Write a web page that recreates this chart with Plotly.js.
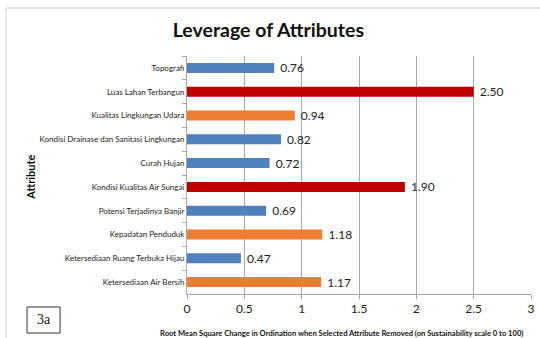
<!DOCTYPE html>
<html>
<head>
<meta charset="utf-8">
<script src="https://cdn.plot.ly/plotly-3.0.1.min.js"></script>
<style>html,body{margin:0;padding:0;background:#fff;}#chart{width:540px;height:338px;}</style>
</head>
<body>
<div id="chart"></div>
<script>
const categories = [
  "Topografi",
  "Luas Lahan Terbangun",
  "Kualitas Lingkungan Udara",
  "Kondisi Drainase dan Sanitasi Lingkungan",
  "Curah Hujan",
  "Kondisi Kualitas Air Sungai",
  "Potensi Terjadinya Banjir",
  "Kepadatan Penduduk",
  "Ketersediaan Ruang Terbuka Hijau",
  "Ketersediaan Air Bersih"
];
const values = [0.76, 2.50, 0.94, 0.82, 0.72, 1.90, 0.69, 1.18, 0.47, 1.17];
const groups = ["low", "high", "mid", "low", "low", "high", "low", "mid", "low", "mid"];
const xTicks = [0, 0.5, 1, 1.5, 2, 2.5, 3];
const xTickLabels = ["0", "0.5", "1", "1.5", "2", "2.5", "3"];

const groupColors = {low: "#4f81bd", high: "#c00000", mid: "#ed7d31"};

const trace = {
  type: "bar",
  orientation: "h",
  y: categories,
  x: values,
  width: 0.42,
  marker: {color: groups.map(g => groupColors[g])},
  text: values.map(v => "\u00a0" + v.toFixed(2)),
  textposition: "outside",
  constraintext: "none",
  cliponaxis: false,
  textfont: {family: "Lato, 'Open Sans', sans-serif", size: 12, color: "#222"},
  hoverinfo: "none"
};

const layout = {
  width: 540,
  height: 338,
  margin: {l: 187, r: 9, t: 56, b: 44},
  paper_bgcolor: "#fff",
  plot_bgcolor: "#fff",
  showlegend: false,
  title: {
    text: "<b>Leverage of Attributes</b>",
    font: {family: "Lato, 'Open Sans', sans-serif", size: 19.5, color: "#111"},
    x: 0.497, xanchor: "center", xref: "container",
    y: 0.91, yanchor: "middle", yref: "container"
  },
  xaxis: {
    range: [0, 3],
    tickvals: xTicks,
    ticktext: xTickLabels,
    showgrid: true,
    gridcolor: "#a6a6a6",
    gridwidth: 1,
    zeroline: false,
    showline: true,
    linecolor: "#a6a6a6",
    ticks: "outside",
    ticklen: 4,
    tickcolor: "#a6a6a6",
    tickfont: {family: "Lato, 'Open Sans', sans-serif", size: 12, color: "#222"},
    fixedrange: true
  },
  yaxis: {
    type: "category",
    categoryorder: "array",
    categoryarray: categories,
    autorange: "reversed",
    showline: true,
    linecolor: "#a6a6a6",
    ticks: "outside",
    tickson: "boundaries",
    ticklen: 4,
    tickcolor: "#a6a6a6",
    showgrid: false,
    tickfont: {family: "Lato, 'Open Sans', sans-serif", size: 8, color: "#222"},
    fixedrange: true
  },
  shapes: [
    {type: "rect", xref: "paper", yref: "paper",
     x0: -0.526, x1: 1.2, y0: -0.25, y1: 1.2017,
     line: {color: "#d0d0d0", width: 1}, fillcolor: "rgba(0,0,0,0)"},
    {type: "rect", xref: "paper", yref: "paper",
     x0: -0.465, x1: -0.369, y0: -0.164, y1: -0.0546,
     line: {color: "#333", width: 1}, fillcolor: "rgba(0,0,0,0)"}
  ],
  annotations: [
    {text: "3a", xref: "paper", yref: "paper", x: -0.417, y: -0.109,
     showarrow: false, xanchor: "center", yanchor: "middle",
     font: {family: "'Liberation Serif', 'DejaVu Serif', serif", size: 14, color: "#111"}},
    {text: "<b>Attribute</b>", xref: "paper", yref: "paper", x: -0.455, y: 0.49,
     showarrow: false, textangle: -90, xanchor: "center", yanchor: "middle",
     font: {family: "Lato, 'Open Sans', sans-serif", size: 11, color: "#111"}},
    {text: "<b>Root Mean Square Change in Ordination when Selected Attribute Removed (on Sustainability scale 0 to 100)</b>",
     xref: "paper", yref: "paper", x: 0.448, y: -0.164, showarrow: false,
     xanchor: "center", yanchor: "middle",
     font: {family: "Lato, 'Open Sans', sans-serif", size: 7.6, color: "#111"}}
  ]
};

Plotly.newPlot("chart", [trace], layout, {displayModeBar: false, staticPlot: true});
</script>
</body>
</html>
